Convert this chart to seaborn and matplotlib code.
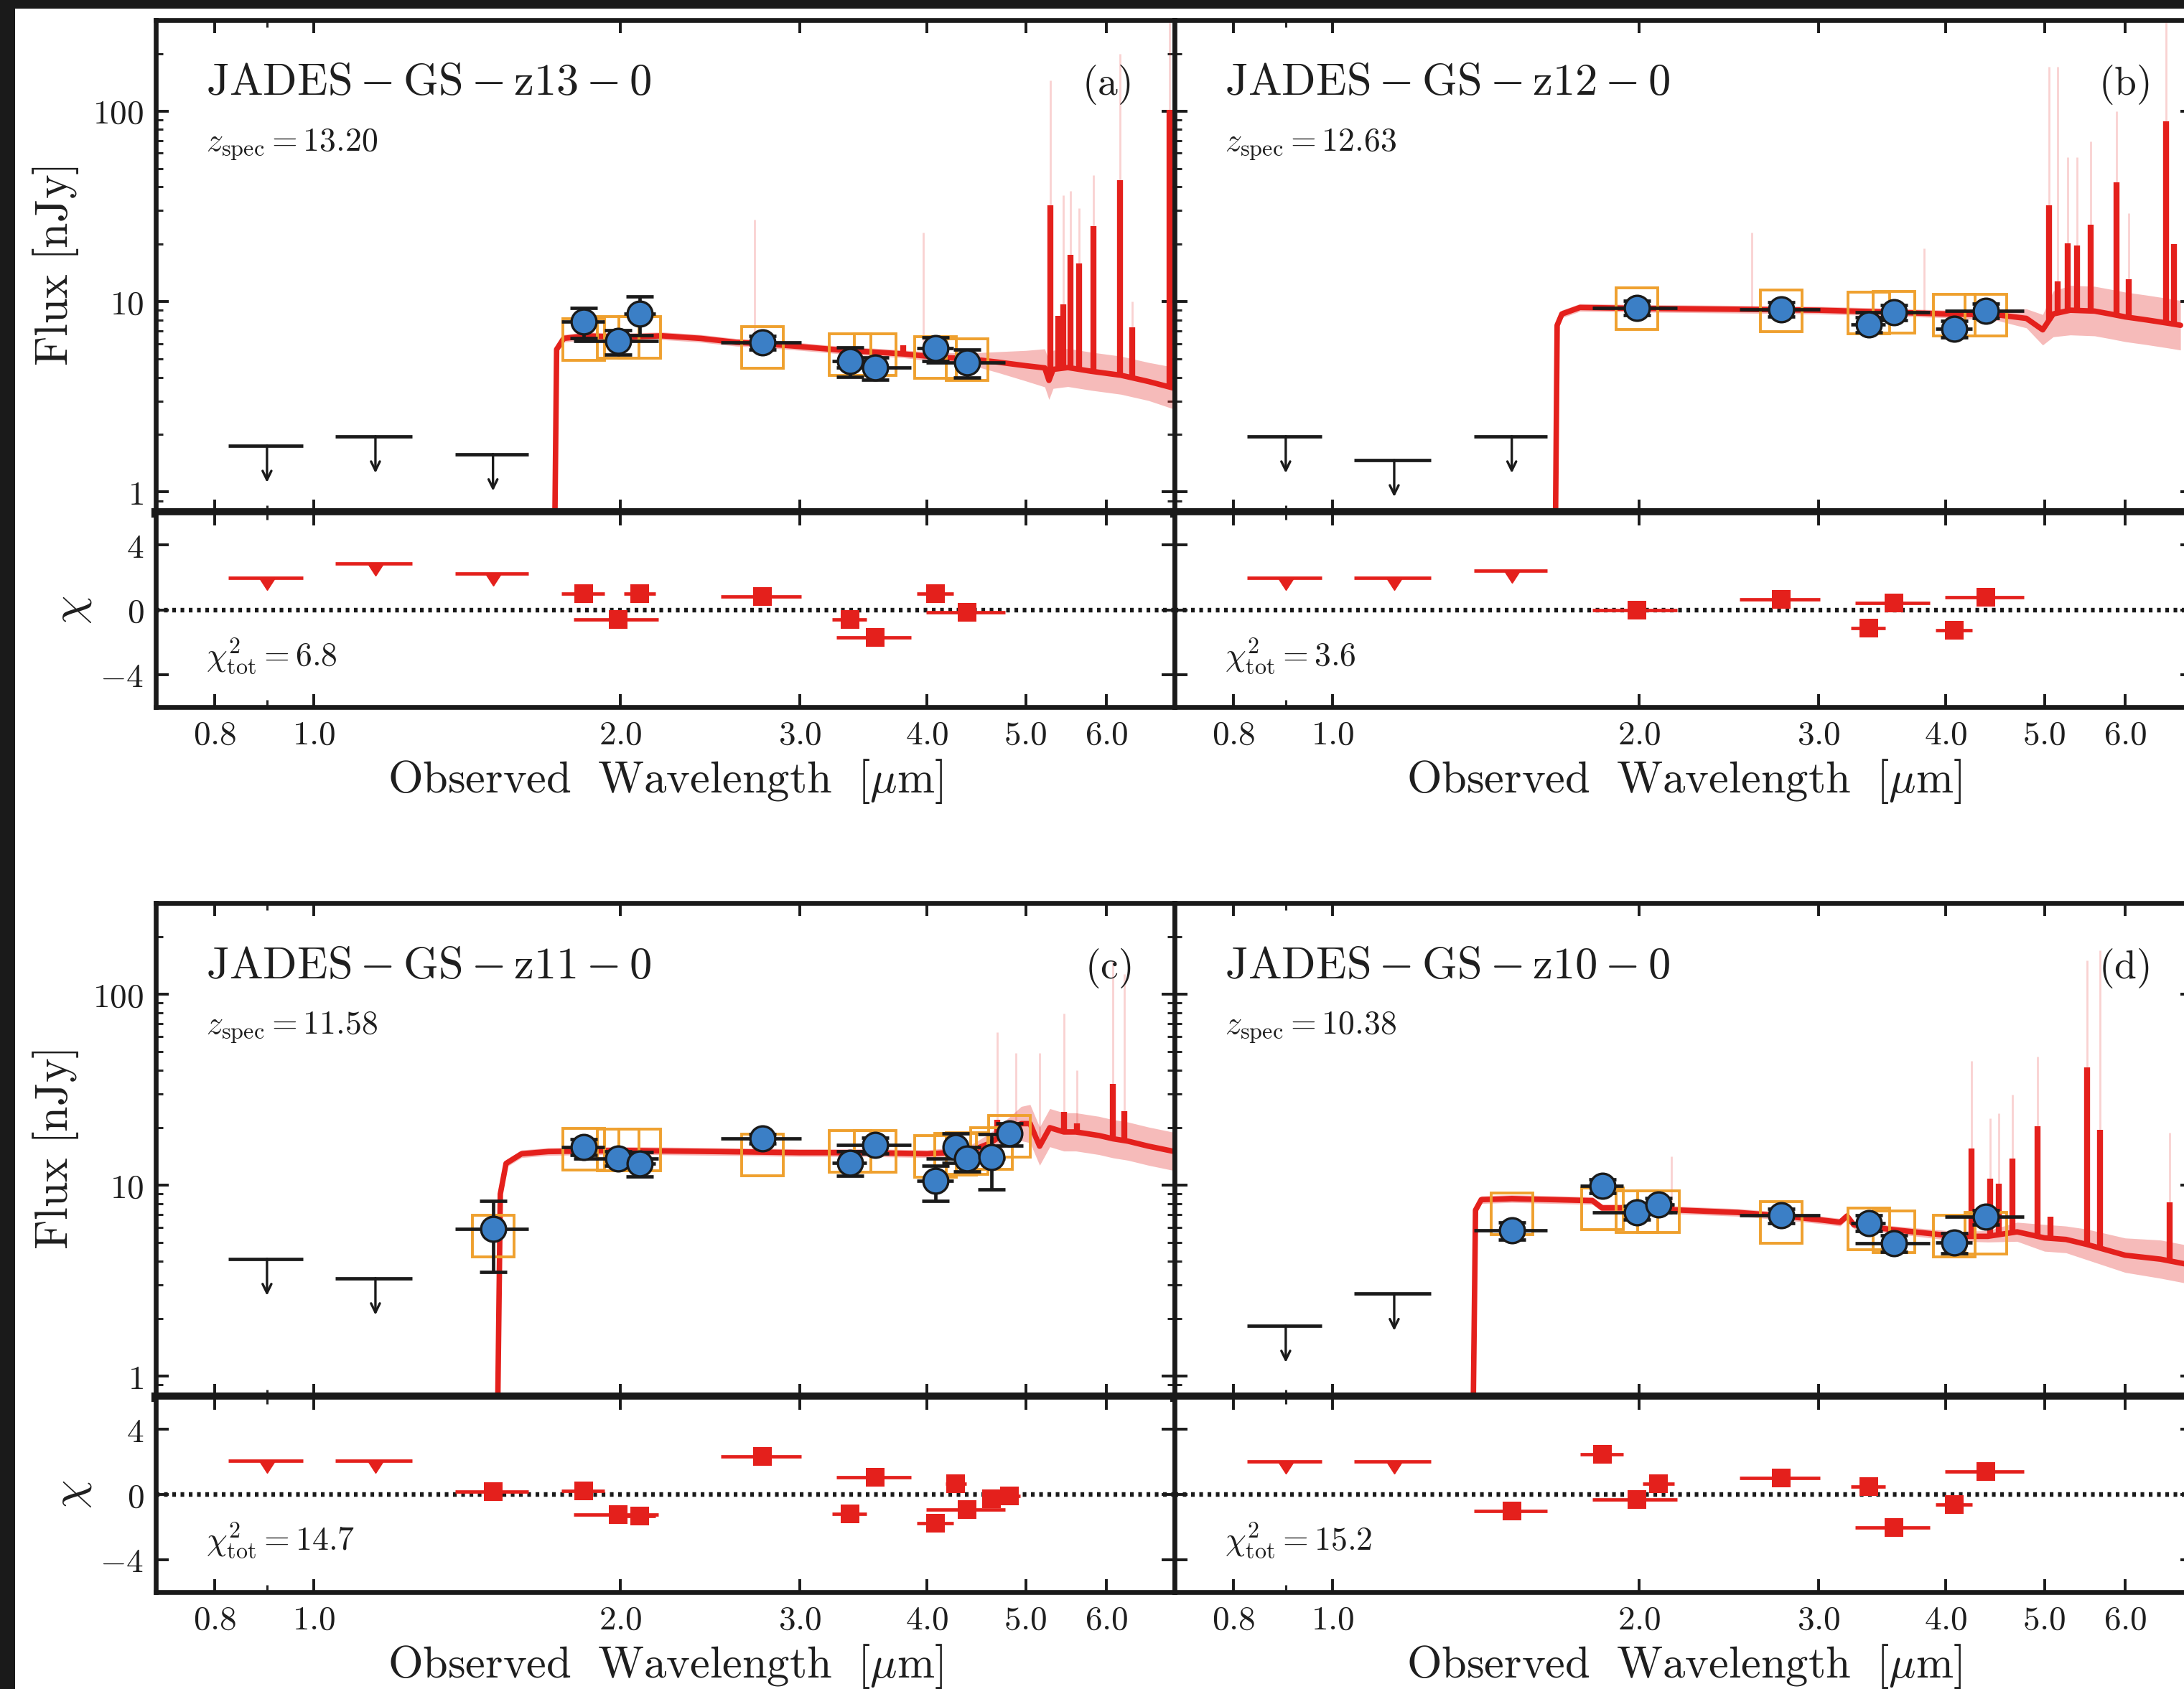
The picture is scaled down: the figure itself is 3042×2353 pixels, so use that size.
import numpy as np
import matplotlib
matplotlib.use("Agg")
import matplotlib.pyplot as plt
import seaborn as sns
from matplotlib.patches import Rectangle
from matplotlib.ticker import FixedLocator, FixedFormatter, NullFormatter, LogLocator

# ---------------- data ----------------
filters = ['F090W', 'F115W', 'F150W', 'F182M', 'F200W', 'F210M', 'F277W',
           'F335M', 'F356W', 'F410M', 'F430M', 'F444W', 'F460M', 'F480M']
filter_wave = [0.90, 1.15, 1.50, 1.84, 1.99, 2.09, 2.76, 3.36, 3.56, 4.08, 4.27, 4.38, 4.63, 4.82]
filter_halfwidth = [0.076, 0.10, 0.124, 0.09, 0.19, 0.075, 0.25, 0.13, 0.30, 0.17, 0.10, 0.39, 0.10, 0.12]

xtick_vals = [0.8, 1.0, 2.0, 3.0, 4.0, 5.0, 6.0]
xtick_labels = ['$0.8$', '$1.0$', '$2.0$', '$3.0$', '$4.0$', '$5.0$', '$6.0$']
ytick_vals = [1, 10, 100]
ytick_labels = ['$1$', '$10$', '$100$']
rtick_vals = [-4, 0, 4]
rtick_labels = ['$-4$', '$0$', '$4$']

panel_names = [r'$\mathrm{JADES} - \mathrm{GS} - \mathrm{z13} - 0$',
               r'$\mathrm{JADES} - \mathrm{GS} - \mathrm{z12} - 0$',
               r'$\mathrm{JADES} - \mathrm{GS} - \mathrm{z11} - 0$',
               r'$\mathrm{JADES} - \mathrm{GS} - \mathrm{z10} - 0$']
panel_tags = [r'$(\mathrm{a})$', r'$(\mathrm{b})$', r'$(\mathrm{c})$', r'$(\mathrm{d})$']
panel_zspec = ['13.20', '12.63', '11.58', '10.38']
panel_chi2 = ['6.8', '3.6', '14.7', '15.2']

# panel (a)
a_ul_filters = ['F090W', 'F115W', 'F150W']
a_ul_flux = [1.75, 1.96, 1.58]
a_ul_chi = [1.95, 2.86, 2.25]
a_det_filters = ['F182M', 'F200W', 'F210M', 'F277W', 'F335M', 'F356W', 'F410M', 'F444W']
a_det_flux = [7.83, 6.18, 8.66, 6.08, 4.88, 4.49, 5.68, 4.80]
a_det_err = [1.4, 0.9, 2.0, 0.5, 0.85, 0.6, 0.8, 0.8]
a_model_phot = [6.3, 6.5, 6.5, 5.75, 5.25, 5.25, 5.1, 4.95]
a_chi = [1.0, -0.6, 1.0, 0.8, -0.6, -1.7, 1.0, -0.15]
a_model_wave = [1.70, 1.724, 1.732, 1.76, 1.85, 2.0, 2.2, 2.4, 2.6, 2.77, 3.0, 3.3, 3.6, 3.8,
                4.1, 4.4, 4.7, 5.0, 5.22, 5.27, 5.32, 5.5, 5.8, 6.2, 6.6, 7.0]
a_model_flux = [0.3, 0.5, 5.6, 6.4, 6.6, 6.5, 6.6, 6.4, 6.1, 6.0, 5.8, 5.55, 5.4, 5.3,
                5.1, 5.0, 4.8, 4.6, 4.48, 3.85, 4.4, 4.5, 4.3, 4.1, 3.8, 3.5]
a_band_dex = [0.02, 0.02, 0.02, 0.02, 0.02, 0.02, 0.02, 0.02, 0.02, 0.02, 0.02, 0.02, 0.02, 0.02,
              0.025, 0.03, 0.055, 0.08, 0.1, 0.1, 0.1, 0.1, 0.1, 0.1, 0.1, 0.11]
a_line_wave = [3.79, 5.29, 5.38, 5.44, 5.53, 5.64, 5.83, 6.19, 6.36, 6.92]
a_line_peak = [5.9, 31.9, 8.4, 9.7, 17.6, 15.9, 24.9, 43.3, 7.3, 101]
a_faint_wave = [2.71, 3.97, 5.29, 5.44, 5.53, 5.64, 5.83, 6.19, 6.36, 6.92]
a_faint_peak = [27, 23, 145, 36, 38, 31, 46, 200, 10, 300]

# panel (b)
b_ul_filters = ['F090W', 'F115W', 'F150W']
b_ul_flux = [1.96, 1.47, 1.96]
b_ul_chi = [1.98, 1.98, 2.4]
b_det_filters = ['F200W', 'F277W', 'F335M', 'F356W', 'F410M', 'F444W']
b_det_flux = [9.27, 9.1, 7.57, 8.81, 7.19, 8.96]
b_det_err = [0.8, 0.8, 0.7, 0.8, 0.7, 0.8]
b_model_phot = [9.2, 8.9, 8.7, 8.8, 8.5, 8.5]
b_chi = [0.0, 0.65, -1.13, 0.42, -1.27, 0.76]
b_model_wave = [1.63, 1.655, 1.662, 1.68, 1.75, 2.0, 2.5, 3.0, 3.5, 4.0, 4.5, 4.8, 4.98,
                5.1, 5.3, 5.6, 5.8, 6.0, 6.3, 6.6, 6.8]
b_model_flux = [0.3, 0.5, 7.5, 8.6, 9.3, 9.2, 9.1, 9.0, 8.8, 8.6, 8.5, 8.15, 7.1,
                8.6, 9.0, 8.9, 8.6, 8.3, 8.0, 7.7, 7.5]
b_band_dex = [0.02, 0.02, 0.02, 0.02, 0.02, 0.02, 0.02, 0.02, 0.02, 0.02, 0.03, 0.05, 0.08,
              0.12, 0.13, 0.13, 0.13, 0.13, 0.13, 0.13, 0.13]
b_line_wave = [5.05, 5.15, 5.27, 5.38, 5.55, 5.88, 6.05, 6.58, 6.70]
b_line_peak = [32, 12.8, 20.2, 19.6, 25.4, 42.2, 13.1, 88, 20]
b_faint_wave = [2.58, 3.81, 5.05, 5.15, 5.27, 5.38, 5.55, 5.88, 6.05, 6.58]
b_faint_peak = [23, 19, 170, 170, 57, 57, 69, 100, 29, 300]

# panel (c)
c_ul_filters = ['F090W', 'F115W']
c_ul_flux = [4.12, 3.26]
c_ul_chi = [2.07, 2.07]
c_det_filters = ['F150W', 'F182M', 'F200W', 'F210M', 'F277W', 'F335M', 'F356W',
                 'F410M', 'F430M', 'F444W', 'F460M', 'F480M']
c_det_flux = [5.9, 15.9, 13.8, 13.0, 17.5, 13.1, 16.2, 10.5, 15.9, 13.8, 14.0, 18.6]
c_det_err = [2.4, 1.5, 1.2, 1.9, 1.0, 1.9, 1.5, 2.2, 2.8, 2.0, 4.5, 2.5]
c_model_phot = [5.4, 15.4, 15.3, 15.3, 14.4, 15.0, 15.0, 14.2, 14.5, 14.6, 15.5, 18.0]
c_chi = [0.17, 0.23, -1.23, -1.33, 2.33, -1.17, 1.07, -1.77, 0.67, -0.93, -0.27, -0.1]
c_model_wave = [1.50, 1.515, 1.525, 1.545, 1.6, 1.7, 2.0, 2.5, 3.0, 3.5, 4.0, 4.4, 4.6, 4.8,
                4.95, 5.05, 5.16, 5.28, 5.45, 5.6, 5.9, 6.09, 6.3, 6.6, 7.0]
c_model_flux = [0.3, 0.5, 9.0, 13.0, 14.6, 15.0, 15.2, 15.0, 14.8, 14.8, 14.6, 15.0, 16.5, 19.0,
                21.0, 21.0, 16.0, 20.0, 19.0, 19.0, 18.2, 17.5, 17.0, 16.0, 15.0]
c_band_dex = [0.02, 0.02, 0.02, 0.02, 0.02, 0.02, 0.02, 0.02, 0.02, 0.02, 0.02, 0.03, 0.05, 0.07,
              0.09, 0.1, 0.1, 0.1, 0.1, 0.1, 0.1, 0.1, 0.1, 0.1, 0.1]
c_line_wave = [4.69, 5.45, 5.61, 6.09, 6.25]
c_line_peak = [22, 24.2, 21, 33.8, 24.5]
c_faint_wave = [4.69, 4.89, 5.16, 5.45, 5.61, 6.09, 6.25]
c_faint_peak = [63, 49, 49, 79, 40, 150, 127]

# panel (d)
d_ul_filters = ['F090W', 'F115W']
d_ul_flux = [1.84, 2.70]
d_ul_chi = [2.05, 2.05]
d_det_filters = ['F150W', 'F182M', 'F200W', 'F210M', 'F277W', 'F335M', 'F356W', 'F410M', 'F444W']
d_det_flux = [5.8, 9.9, 7.2, 7.9, 6.94, 6.35, 4.97, 5.0, 6.82]
d_det_err = [0.6, 0.8, 0.6, 0.7, 0.6, 0.6, 0.5, 0.6, 0.6]
d_model_phot = [7.1, 7.5, 7.3, 7.3, 6.4, 5.9, 5.7, 5.4, 5.6]
d_chi = [-1.0, 2.48, -0.33, 0.66, 1.0, 0.5, -2.05, -0.6, 1.42]
d_model_wave = [1.36, 1.374, 1.382, 1.40, 1.50, 1.65, 1.80, 1.84, 2.0, 2.2, 2.5, 2.77, 3.0,
                3.15, 3.2, 3.25, 3.55, 4.1, 4.4, 4.7, 5.0, 5.25, 5.5, 6.0, 6.5, 7.0]
d_model_flux = [0.3, 0.5, 7.4, 8.4, 8.5, 8.4, 8.3, 7.6, 7.6, 7.4, 7.2, 6.9, 6.6,
                6.4, 6.9, 6.2, 5.85, 5.4, 5.4, 5.7, 5.3, 5.2, 4.9, 4.3, 4.1, 3.8]
d_band_dex = [0.02, 0.02, 0.02, 0.02, 0.02, 0.02, 0.02, 0.02, 0.02, 0.02, 0.02, 0.02, 0.02,
              0.02, 0.02, 0.02, 0.02, 0.025, 0.03, 0.05, 0.07, 0.07, 0.08, 0.09, 0.1, 0.1]
d_line_wave = [2.15, 4.24, 4.42, 4.51, 4.65, 4.92, 5.07, 5.51, 5.67, 6.63]
d_line_peak = [8.0, 15.5, 10.8, 10.2, 13.8, 20.3, 6.84, 41.5, 19.5, 8.1]
d_faint_wave = [2.15, 4.24, 4.42, 4.51, 4.65, 4.92, 5.51, 5.67, 6.63]
d_faint_peak = [14.2, 44.7, 22.4, 23.8, 29.8, 47, 150, 170, 18.9]

# ---------------- style ----------------
sns.set_theme(style="ticks")
plt.rcParams.update({
    "mathtext.fontset": "cm",
    "font.family": ["DejaVu Serif"],
    "axes.unicode_minus": True,
    "figure.facecolor": "white",
    "axes.facecolor": "white",
    "savefig.facecolor": "white",
})

RED = '#E4201C'
ORANGE = '#EFA02E'
BLUE = '#3B7FC6'
TXT = '#1e1e1e'

fwave = dict(zip(filters, filter_wave))
fhalf = dict(zip(filters, filter_halfwidth))

panels = [
    dict(ulf=a_ul_filters, ulv=a_ul_flux, ulc=a_ul_chi, df=a_det_filters, dv=a_det_flux,
         de=a_det_err, mp=a_model_phot, dc=a_chi, mw=a_model_wave, mf=a_model_flux, bd=a_band_dex,
         lw=a_line_wave, lp=a_line_peak, fw=a_faint_wave, fp=a_faint_peak),
    dict(ulf=b_ul_filters, ulv=b_ul_flux, ulc=b_ul_chi, df=b_det_filters, dv=b_det_flux,
         de=b_det_err, mp=b_model_phot, dc=b_chi, mw=b_model_wave, mf=b_model_flux, bd=b_band_dex,
         lw=b_line_wave, lp=b_line_peak, fw=b_faint_wave, fp=b_faint_peak),
    dict(ulf=c_ul_filters, ulv=c_ul_flux, ulc=c_ul_chi, df=c_det_filters, dv=c_det_flux,
         de=c_det_err, mp=c_model_phot, dc=c_chi, mw=c_model_wave, mf=c_model_flux, bd=c_band_dex,
         lw=c_line_wave, lp=c_line_peak, fw=c_faint_wave, fp=c_faint_peak),
    dict(ulf=d_ul_filters, ulv=d_ul_flux, ulc=d_ul_chi, df=d_det_filters, dv=d_det_flux,
         de=d_det_err, mp=d_model_phot, dc=d_chi, mw=d_model_wave, mf=d_model_flux, bd=d_band_dex,
         lw=d_line_wave, lp=d_line_peak, fw=d_faint_wave, fp=d_faint_peak),
]

W, H = 3042, 2353
fig = plt.figure(figsize=(W / 100, H / 100), dpi=100)

col_left = [217, 1636]
col_w = 1419
rows = [(28, 714, 985), (1258, 1946, 2218)]


def style(ax):
    for sp in ax.spines.values():
        sp.set_linewidth(4.8)
        sp.set_color('k')
    ax.tick_params(which='major', direction='in', length=13, width=2.8, top=True, right=True,
                   left=True, bottom=True, labelsize=34, pad=12, colors='k', labelcolor=TXT)
    ax.tick_params(which='minor', direction='in', length=7, width=2.2, top=True, right=True,
                   left=True, bottom=True)


for idx, p in enumerate(panels):
    r, c = divmod(idx, 2)
    top, split, bottom = rows[r]
    left = col_left[c]
    ax = fig.add_axes([left / W, 1 - split / H, col_w / W, (split - top) / H])
    axr = fig.add_axes([left / W, 1 - bottom / H, col_w / W, (bottom - split) / H])

    for a in (ax, axr):
        a.set_xscale('log')
    ax.set_yscale('log')

    mw = np.array(p['mw'])
    mf = np.array(p['mf'])
    bd = np.array(p['bd'])
    # uncertainty band
    ax.fill_between(mw, mf / 10 ** bd, mf * 10 ** bd, color=RED, alpha=0.3, lw=0, zorder=1)
    # faint upper envelopes of lines
    fw_ = np.array(p['fw'])
    fbase = 10 ** np.interp(np.log10(fw_), np.log10(mw), np.log10(mf))
    ax.vlines(fw_, fbase, p['fp'], color=RED, alpha=0.2, lw=2.0, zorder=1)
    # model continuum
    sns.lineplot(x=mw, y=mf, ax=ax, color=RED, lw=5.5, sort=False, estimator=None,
                 zorder=2, legend=False)
    # emission lines
    lw_ = np.array(p['lw'])
    lbase = 10 ** np.interp(np.log10(lw_), np.log10(mw), np.log10(mf))
    ax.vlines(lw_, lbase, p['lp'], color=RED, lw=6.0, zorder=2)

    # upper limits
    ulw = [fwave[f] for f in p['ulf']]
    ulh = [fhalf[f] for f in p['ulf']]
    ax.errorbar(ulw, p['ulv'], xerr=ulh, fmt='none', ecolor='k', elinewidth=3.4, capsize=0, zorder=4)
    for w, v in zip(ulw, p['ulv']):
        ax.annotate('', xy=(w, v), xytext=(0, -37), textcoords='offset points',
                    arrowprops=dict(arrowstyle='<-,head_length=0.45,head_width=0.22', color='k',
                                    lw=2.4, shrinkA=0, shrinkB=0, mutation_scale=20), zorder=4)

    # detections
    dw = [fwave[f] for f in p['df']]
    dh = [fhalf[f] for f in p['df']]
    ax.plot(dw, p['mp'], ls='none', marker='s', ms=42, mfc='none', mec=ORANGE, mew=2.8, zorder=3)
    ax.errorbar(dw, p['dv'], xerr=dh, fmt='none', ecolor='k', elinewidth=3.4, capsize=0, zorder=4)
    ax.errorbar(dw, p['dv'], yerr=p['de'], fmt='none', ecolor='k', elinewidth=3.4, capsize=14,
                capthick=3.4, zorder=4)
    sns.scatterplot(x=dw, y=p['dv'], ax=ax, color=BLUE, s=25 ** 2, edgecolor='k', linewidth=2.4,
                    zorder=5, legend=False)

    # residuals
    axr.axhline(0, color='k', ls=(0, (0.8, 1.0)), lw=4.6, zorder=1)
    axr.errorbar(ulw, p['ulc'], xerr=ulh, fmt='none', ecolor=RED, elinewidth=3.4, zorder=3)
    axr.plot(ulw, p['ulc'], ls='none', marker=11, ms=16, color=RED, zorder=3)
    axr.errorbar(dw, p['dc'], xerr=dh, fmt='none', ecolor=RED, elinewidth=3.4, zorder=3)
    sns.scatterplot(x=dw, y=p['dc'], ax=axr, marker='s', color=RED, s=19 ** 2, edgecolor=RED,
                    linewidth=0, zorder=4, legend=False)

    # axes setup
    for a in (ax, axr):
        a.set_xlim(0.7, 7.0)
        a.xaxis.set_major_locator(FixedLocator(xtick_vals))
        a.xaxis.set_minor_locator(FixedLocator([0.9]))
        a.xaxis.set_major_formatter(FixedFormatter(xtick_labels))
        a.xaxis.set_minor_formatter(NullFormatter())
        a.set_xlabel('')
        a.set_ylabel('')
        style(a)
    ax.set_ylim(0.78, 300)
    ax.yaxis.set_major_locator(FixedLocator(ytick_vals))
    ax.yaxis.set_major_formatter(FixedFormatter(ytick_labels))
    ax.yaxis.set_minor_locator(LogLocator(base=10, subs=np.arange(2, 10)))
    ax.yaxis.set_minor_formatter(NullFormatter())
    axr.set_ylim(-6, 6)
    axr.yaxis.set_major_locator(FixedLocator(rtick_vals))
    axr.yaxis.set_major_formatter(FixedFormatter(rtick_labels))
    axr.yaxis.set_minor_locator(FixedLocator([]))
    ax.tick_params(labelbottom=False)
    ax.spines['bottom'].set_linewidth(9.5)
    if c == 1:
        ax.tick_params(labelleft=False)
        axr.tick_params(labelleft=False)
    else:
        ax.text(-0.098, 0.5, r'$\mathrm{Flux\ [nJy]}$', transform=ax.transAxes, rotation=90,
                ha='center', va='center', fontsize=46, color=TXT)
        axr.text(-0.083, 0.5, r'$\chi$', transform=axr.transAxes, rotation=90,
                 ha='center', va='center', fontsize=46, color=TXT)

    axr.text(0.5, -0.439, r'$\mathrm{Observed\ \ Wavelength\ \ [\mu m]}$', transform=axr.transAxes,
             ha='center', va='baseline', fontsize=45, color=TXT)

    ax.text(0.049, 0.848, panel_names[idx], transform=ax.transAxes, ha='left', va='baseline',
            fontsize=45, color=TXT)
    ax.text(0.957, 0.848, panel_tags[idx], transform=ax.transAxes, ha='right', va='baseline',
            fontsize=40, color=TXT)
    ax.text(0.049, 0.735, r'$z_{\rm spec} = ' + panel_zspec[idx] + '$', transform=ax.transAxes,
            ha='left', va='baseline', fontsize=33, color=TXT)
    axr.text(0.049, 0.214, r'$\chi^2_{\rm tot} = ' + panel_chi2[idx] + '$', transform=axr.transAxes,
             ha='left', va='baseline', fontsize=33, color=TXT)

# black borders of the screenshot
fig.add_artist(Rectangle((0, 1 - 12 / H), 1, 12 / H, transform=fig.transFigure, fc='k', ec='none', zorder=20))
fig.add_artist(Rectangle((0, 0), 21 / W, 1, transform=fig.transFigure, fc='k', ec='none', zorder=20))

fig.savefig('out.png', dpi=100)
